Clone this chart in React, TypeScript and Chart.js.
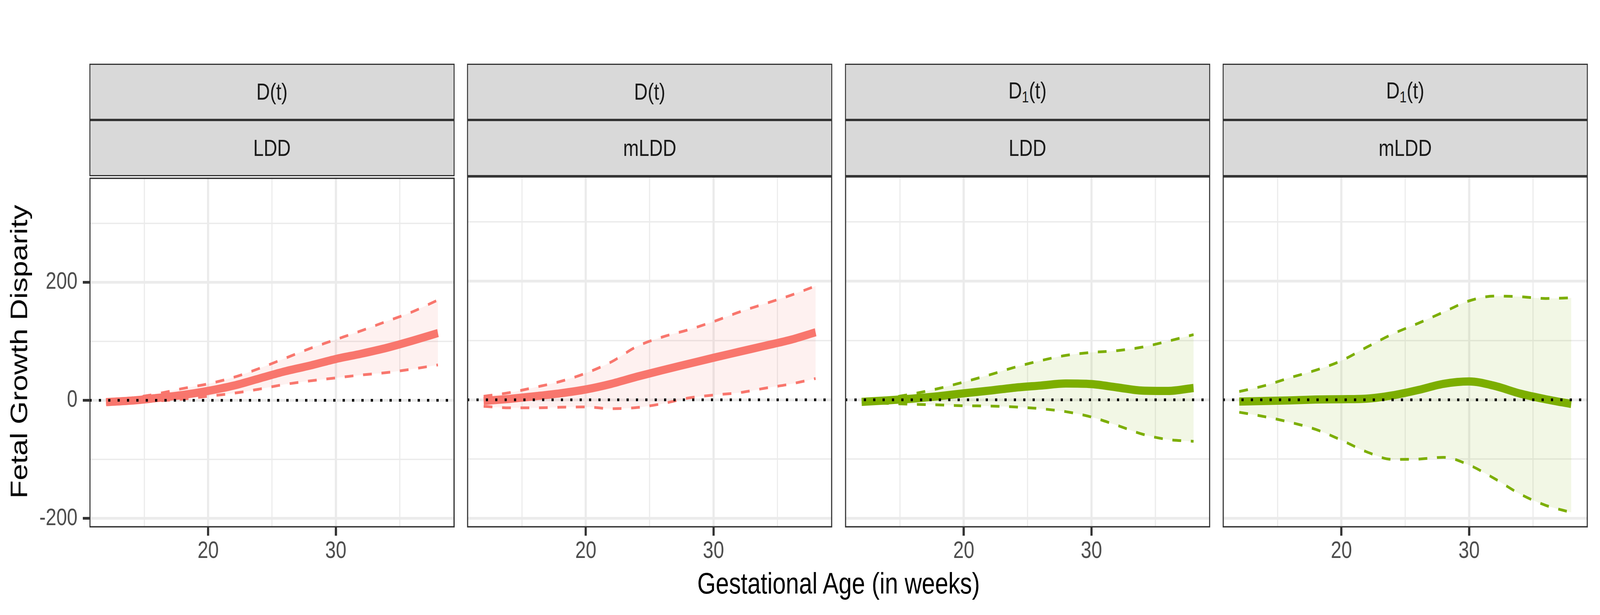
import React, { useEffect, useRef } from 'react';
import { Chart, registerables } from 'chart.js';

Chart.register(...registerables);
Chart.defaults.font.family = "'Liberation Sans', Arial, sans-serif";

// ---- data -------------------------------------------------------------
const WEEKS = [12, 14, 16, 18, 20, 22, 24, 26, 28, 30, 32, 34, 36, 38];

const D_LDD_EST = [-3, -0.5, 4, 9, 16, 25, 37, 49, 59, 70, 79, 89, 101, 114];
const D_LDD_UP = [-1, 4, 11, 20, 28, 39, 54, 71, 88, 103, 118, 134, 150, 170];
const D_LDD_LO = [-5, -3, -1, 2, 7, 12, 19, 27, 33, 38, 43, 47, 53, 60];

const D_MLDD_EST = [-2, 1.5, 6, 11, 17.5, 27, 39, 50, 60.5, 71, 81, 91, 101, 114];
const D_MLDD_UP = [6, 12, 21, 31, 45, 64, 90, 106, 118, 132, 148, 162, 176, 192];
const D_MLDD_LO = [-11, -13.5, -13.5, -12.5, -12, -15, -13, -6.5, 3, 8, 12, 19.5, 26.5, 36];

const D1_LDD_EST = [-3.5, -1, 2, 6, 11, 15.5, 20.5, 24, 27.5, 26.5, 21, 15.5, 15, 20];
const D1_LDD_UP = [-2, 3, 10, 19, 30, 42, 55, 66, 75, 80, 83, 89, 99, 110];
const D1_LDD_LO = [-4, -6, -7.5, -8.5, -10, -10.5, -12, -15, -20, -29, -43, -58, -67, -70];

const D1_MLDD_EST = [-3, -2, -1, 0.5, 1, 2, 7.5, 16.5, 27, 31, 23.5, 10.5, 1, -7];
const D1_MLDD_UP = [14, 24, 37.5, 50, 66, 89, 111, 129, 148, 167, 175, 174, 171, 172];
const D1_MLDD_LO = [-21, -28.5, -38, -50, -68, -88, -100.5, -100, -97, -110, -133, -159, -178, -190];

const X_MIN = 10.7;
const X_MAX = 39.3;
const Y_MIN = -215.4;
const Y_MAX = 377.3;
const X_TICKS = [15, 20, 25, 30, 35];
const X_MAJOR = [20, 30];
const Y_TICKS = [-200, -100, 0, 100, 200, 300];
const Y_MAJOR = [-200, 0, 200];

const RED = '#F8766D';
const RED_FILL = 'rgba(248,118,109,0.1)';
const GREEN = '#7CAE00';
const GREEN_FILL = 'rgba(124,174,0,0.1)';

const PANELS = [
  { top: 'D', sub: '', bottom: 'LDD', color: RED, fill: RED_FILL, est: D_LDD_EST, up: D_LDD_UP, lo: D_LDD_LO },
  { top: 'D', sub: '', bottom: 'mLDD', color: RED, fill: RED_FILL, est: D_MLDD_EST, up: D_MLDD_UP, lo: D_MLDD_LO },
  { top: 'D', sub: '1', bottom: 'LDD', color: GREEN, fill: GREEN_FILL, est: D1_LDD_EST, up: D1_LDD_UP, lo: D1_LDD_LO },
  { top: 'D', sub: '1', bottom: 'mLDD', color: GREEN, fill: GREEN_FILL, est: D1_MLDD_EST, up: D1_MLDD_UP, lo: D1_MLDD_LO },
];

// ---- layout (reference pixels, mapped onto the actual viewport) -------
const FULL_W = 5118;
const FULL_H = 1574;
const PANEL_X = [286, 1494.3, 2702.6, 3910.9];
const PANEL_W = 1168;
const STRIP_TOP = 162.5;
const STRIP_MID = 307;
const PLOT_TOP = 451;
const PLOT_BOTTOM = 1350;
const TOP_PAD = 50;
const X_AXIS_H = 110;

const panelBorder = {
  id: 'panelBorder',
  afterDraw(chart: any) {
    const { ctx, chartArea: a } = chart;
    ctx.save();
    ctx.strokeStyle = '#333333';
    ctx.lineWidth = 3.5;
    ctx.strokeRect(a.left + 1.75, a.top + 1.75, a.right - a.left - 3.5, a.bottom - a.top - 3.5);
    ctx.restore();
  },
};

function Panel({ idx }: { idx: number }) {
  const ref = useRef<HTMLCanvasElement>(null);
  const cfg = PANELS[idx];
  const leftExtra = idx === 0 ? PANEL_X[0] : 0;
  const canvasLeft = PANEL_X[idx] - leftExtra;
  const width = PANEL_W + leftExtra;
  const height = TOP_PAD + (PLOT_BOTTOM - PLOT_TOP) + X_AXIS_H;

  useEffect(() => {
    const toPts = (arr: number[]) => WEEKS.map((w, i) => ({ x: w, y: arr[i] }));
    const chart = new Chart(ref.current as HTMLCanvasElement, {
      type: 'line',
      data: {
        datasets: [
          {
            data: [{ x: X_MIN, y: 0 }, { x: X_MAX, y: 0 }],
            borderColor: '#000000',
            borderWidth: 7,
            borderDash: [7, 23],
            borderCapStyle: 'butt',
            pointRadius: 0,
            fill: false,
            tension: 0,
          },
          {
            data: toPts(cfg.est),
            borderColor: cfg.color,
            borderWidth: 21,
            borderCapStyle: 'butt',
            pointRadius: 0,
            fill: false,
            cubicInterpolationMode: 'monotone',
          },
          {
            data: toPts(cfg.up),
            borderColor: cfg.color,
            borderWidth: 7,
            borderDash: [28, 31],
            borderCapStyle: 'butt',
            pointRadius: 0,
            fill: false,
            cubicInterpolationMode: 'monotone',
          },
          {
            data: toPts(cfg.lo),
            borderColor: cfg.color,
            borderWidth: 7,
            borderDash: [28, 31],
            borderCapStyle: 'butt',
            pointRadius: 0,
            fill: '-1',
            backgroundColor: cfg.fill,
            cubicInterpolationMode: 'monotone',
          },
        ],
      } as any,
      options: {
        responsive: false,
        animation: false,
        devicePixelRatio: 1,
        layout: { padding: { top: TOP_PAD, left: 0, right: 0, bottom: 0 } },
        plugins: {
          legend: { display: false },
          tooltip: { enabled: false },
          filler: { drawTime: 'beforeDatasetsDraw' },
        },
        scales: {
          x: {
            type: 'linear',
            min: X_MIN,
            max: X_MAX,
            afterBuildTicks: (s: any) => {
              s.ticks = X_TICKS.map((v) => ({ value: v }));
            },
            afterFit: (s: any) => {
              s.height = X_AXIS_H;
            },
            border: { display: false },
            grid: {
              color: '#EBEBEB',
              lineWidth: (c: any) => (X_MAJOR.includes(c.tick?.value) ? 7 : 3.5),
              tickLength: 21,
              tickWidth: 7,
              tickColor: (c: any) => (X_MAJOR.includes(c.tick?.value) ? '#333333' : 'rgba(0,0,0,0)'),
            },
            ticks: {
              autoSkip: false,
              maxRotation: 0,
              padding: 4,
              color: '#4D4D4D',
              font: { size: 61 },
              callback: (v: any) => (X_MAJOR.includes(Number(v)) ? String(v) : ''),
            },
          },
          y: {
            type: 'linear',
            min: Y_MIN,
            max: Y_MAX,
            afterBuildTicks: (s: any) => {
              s.ticks = Y_TICKS.map((v) => ({ value: v }));
            },
            afterFit: (s: any) => {
              s.width = leftExtra;
            },
            border: { display: false },
            grid: {
              color: '#EBEBEB',
              lineWidth: (c: any) => (Y_MAJOR.includes(c.tick?.value) ? 7 : 3.5),
              drawTicks: idx === 0,
              tickLength: 21,
              tickWidth: 7,
              tickColor: (c: any) => (Y_MAJOR.includes(c.tick?.value) ? '#333333' : 'rgba(0,0,0,0)'),
            },
            ticks: {
              display: idx === 0,
              autoSkip: false,
              padding: 17,
              color: '#4D4D4D',
              font: { size: 61 },
              callback: (v: any) => (Y_MAJOR.includes(Number(v)) ? String(v) : ''),
            },
          },
        },
      } as any,
      plugins: [panelBorder],
    });
    return () => chart.destroy();
  }, []);

  return (
    <canvas
      ref={ref}
      width={width}
      height={height}
      style={{ position: 'absolute', left: canvasLeft, top: PLOT_TOP - TOP_PAD, width, height }}
    />
  );
}

function Strip({ idx }: { idx: number }) {
  const cfg = PANELS[idx];
  const base: React.CSSProperties = {
    position: 'absolute',
    left: PANEL_X[idx],
    width: PANEL_W,
    boxSizing: 'border-box',
    border: '3.5px solid #333333',
    background: '#D9D9D9',
    display: 'flex',
    alignItems: 'center',
    justifyContent: 'center',
    color: '#1A1A1A',
    fontSize: 60,
    lineHeight: '60px',
    whiteSpace: 'nowrap',
  };
  return (
    <>
      <div style={{ ...base, top: STRIP_TOP, height: STRIP_MID - STRIP_TOP }}>
        <span>
          {cfg.top}
          {cfg.sub ? (
            <span style={{ fontSize: 40, verticalAlign: -10, lineHeight: '40px' }}>{cfg.sub}</span>
          ) : null}
          (t)
        </span>
      </div>
      <div style={{ ...base, top: STRIP_MID, height: PLOT_TOP - STRIP_MID }}>
        <span>{cfg.bottom}</span>
      </div>
    </>
  );
}

export default function App() {
  const vw = typeof window !== 'undefined' && window.innerWidth ? window.innerWidth : FULL_W;
  const vh = typeof window !== 'undefined' && window.innerHeight ? window.innerHeight : FULL_H;
  const sx = vw / FULL_W;
  const sy = vh / FULL_H;
  return (
    <div
      style={{
        position: 'fixed',
        left: 0,
        top: 0,
        width: FULL_W,
        height: FULL_H,
        background: '#FFFFFF',
        overflow: 'hidden',
        transform: `scale(${sx}, ${sy})`,
        transformOrigin: '0 0',
        fontFamily: "'Liberation Sans', Arial, sans-serif",
      }}
    >
      {PANELS.map((_, i) => (
        <Strip key={'s' + i} idx={i} />
      ))}
      {PANELS.map((_, i) => (
        <Panel key={'p' + i} idx={i} />
      ))}
      <div
        style={{
          position: 'absolute',
          left: 61,
          top: 900,
          transform: 'translate(-50%, -50%) rotate(-90deg)',
          fontSize: 76,
          lineHeight: '76px',
          whiteSpace: 'nowrap',
          color: '#000000',
        }}
      >
        Fetal Growth Disparity
      </div>
      <div
        style={{
          position: 'absolute',
          left: (PANEL_X[0] + PANEL_X[3] + PANEL_W) / 2,
          top: 1455,
          transform: 'translateX(-50%)',
          fontSize: 76,
          lineHeight: '76px',
          whiteSpace: 'nowrap',
          color: '#000000',
        }}
      >
        Gestational Age (in weeks)
      </div>
    </div>
  );
}
